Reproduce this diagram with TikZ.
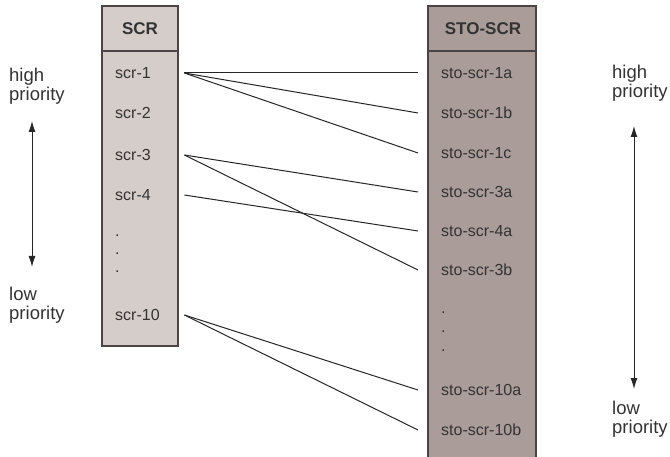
\documentclass[tikz,border=0pt]{standalone}
\usepackage{fontspec}
\setmainfont{Liberation Sans}
\usetikzlibrary{arrows.meta}
\definecolor{scrfill}{HTML}{D5CDCA}
\definecolor{stofill}{HTML}{A99C99}
\definecolor{edge}{HTML}{4A4446}
\definecolor{ink}{HTML}{333333}
\begin{document}
\begin{tikzpicture}[x=1pt,y=-1pt,
  txt/.style={font=\fontsize{16}{17}\selectfont, text=ink, inner sep=0pt},
  head/.style={txt, font=\fontsize{17}{19}\selectfont\bfseries},
  % left rows: text starts at the anchor, east border sits where links begin
  rowl/.style={txt, anchor=west, text width=69pt, align=left},
  % right rows: west border sits where links end, text is indented inside the box
  rowr/.style={txt, anchor=west, text width=82pt, align=left, inner xsep=23pt, inner ysep=0pt},
  tag/.style={txt, anchor=west, align=left, font=\fontsize{18.5}{19.5}\selectfont},
  box/.style={draw=edge, line width=1.4pt},
  link/.style={draw=black!85, line width=1pt},
  prio/.style={draw=black!85, line width=1pt, {Latex[length=11pt,width=7pt]}-{Latex[length=11pt,width=7pt]}}]
\useasboundingbox (0,0) rectangle (670,457);

% SCR column
\filldraw[box, fill=scrfill] (102,6) rectangle (178,346);
\draw[box] (102,51) -- (178,51);
\node[head] (scrh) at (140,29) {SCR};
\node[rowl] (s1)  at (115,73)  {scr-1};
\node[rowl] (s2)  at (115,113) {scr-2};
\node[rowl] (s3)  at (115,155) {scr-3};
\node[rowl] (s4)  at (115,195) {scr-4};
\node[rowl] (sd1) at (115,236) {.};
\node[rowl] (sd2) at (115,254) {.};
\node[rowl] (sd3) at (115,272) {.};
\node[rowl] (s10) at (115,315) {scr-10};

% STO-SCR column
\filldraw[box, fill=stofill] (428,6) rectangle (536,470);
\draw[box] (428,51) -- (536,51);
\node[head] (stoh) at (483,29) {STO-SCR};
\node[rowr] (t1a)  at (418,73)  {sto-scr-1a};
\node[rowr] (t1b)  at (418,113) {sto-scr-1b};
\node[rowr] (t1c)  at (418,153) {sto-scr-1c};
\node[rowr] (t3a)  at (418,192) {sto-scr-3a};
\node[rowr] (t4a)  at (418,231) {sto-scr-4a};
\node[rowr] (t3b)  at (418,270) {sto-scr-3b};
\node[rowr] (td1)  at (418,313) {.};
\node[rowr] (td2)  at (418,332) {.};
\node[rowr] (td3)  at (418,351) {.};
\node[rowr] (t10a) at (418,390) {sto-scr-10a};
\node[rowr] (t10b) at (418,430) {sto-scr-10b};

% mappings
\draw[link] (s1.east)  -- (t1a.west);
\draw[link] (s1.east)  -- (t1b.west);
\draw[link] (s1.east)  -- (t1c.west);
\draw[link] (s3.east)  -- (t3a.west);
\draw[link] (s3.east)  -- (t3b.west);
\draw[link] (s4.east)  -- (t4a.west);
\draw[link] (s10.east) -- (t10a.west);
\draw[link] (s10.east) -- (t10b.west);

% priority scales
\node[tag] (lhi) at (9,86)  {high\\priority};
\node[tag] (llo) at (9,305) {low\\priority};
\coordinate (la) at (32,121);
\coordinate (lb) at (32,267);
\draw[prio] (la) -- (lb);

\node[tag] (rhi) at (612,83)  {high\\priority};
\node[tag] (rlo) at (612,419) {low\\priority};
\coordinate (ra) at (634,126);
\coordinate (rb) at (634,389);
\draw[prio] (ra) -- (rb);
\end{tikzpicture}
\end{document}
